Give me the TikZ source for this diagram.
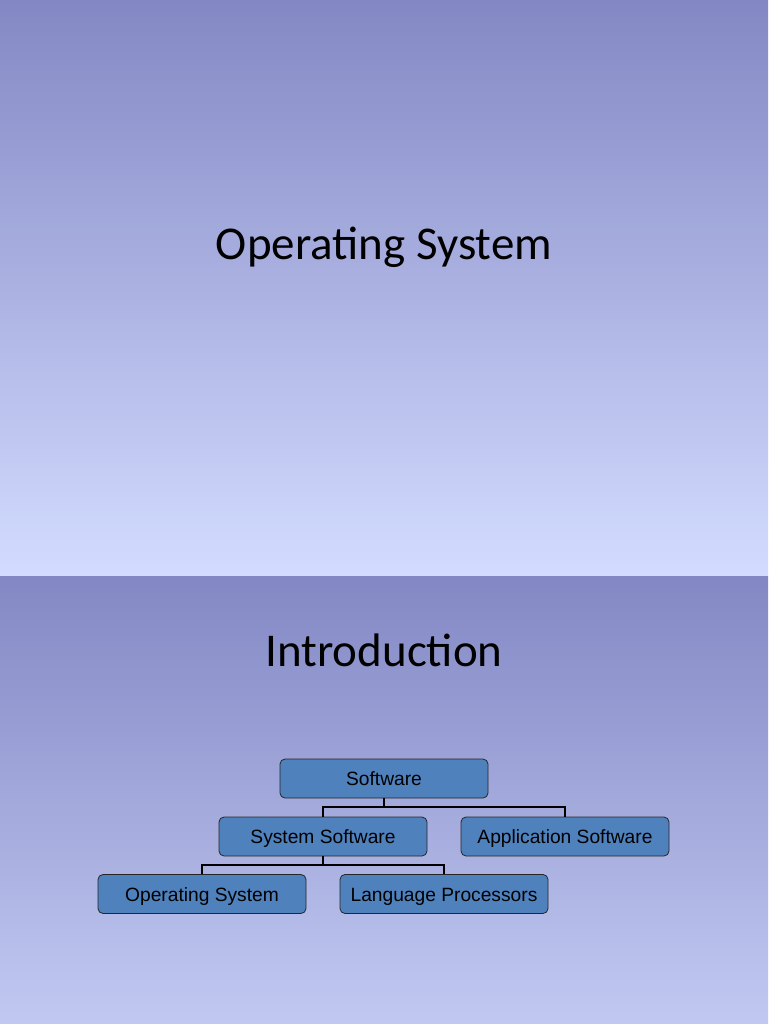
\documentclass[tikz,border=0pt]{standalone}
\usepackage{fontspec}
\setmainfont{Liberation Sans}
\newfontfamily\titlefont{Carlito}
\definecolor{slidetop}{RGB}{131,136,196}
\definecolor{slidebot}{RGB}{211,220,255}
\definecolor{boxfill}{RGB}{79,129,189}
\tikzset{
  orgbox/.style={draw=black!85,fill=boxfill,rounded corners=5pt,line width=0.8pt,
    minimum width=208pt,minimum height=39pt,inner sep=0pt,
    text height=16pt,text depth=2pt,font=\fontsize{19.2}{21}\selectfont},
  orgline/.style={line width=2pt,black},
  slidetitle/.style={font=\titlefont\fontsize{47}{52}\selectfont}
}
\begin{document}
\begin{tikzpicture}[x=1pt,y=-1pt]
  \useasboundingbox (0,0) rectangle (768,1024);
  % slide backgrounds
  \shade[top color=slidetop,bottom color=slidebot] (0,0) rectangle (768,576);
  \begin{scope}
    \clip (0,576) rectangle (768,1024);
    \shade[top color=slidetop,bottom color=slidebot] (0,576) rectangle (768,1152);
  \end{scope}
  % titles
  \node[slidetitle] (title1) at (384,247) {Operating System};
  \node[slidetitle] (title2) at (384,650) {Introduction};
  % org chart
  \node[orgbox] (sw) at (384,778.5) {Software};
  \node[orgbox] (sys) at (323,836.5) {System Software};
  \node[orgbox] (app) at (565,836.5) {Application Software};
  \node[orgbox] (os) at (202,894) {Operating System};
  \node[orgbox] (lp) at (444,894) {Language Processors};
  \draw[orgline] (sw.south) -- ++(0,9) -| (sys.north);
  \draw[orgline] (sw.south) -- ++(0,9) -| (app.north);
  \draw[orgline] (sys.south) -- ++(0,9) -| (os.north);
  \draw[orgline] (sys.south) -- ++(0,9) -| (lp.north);
\end{tikzpicture}
\end{document}
